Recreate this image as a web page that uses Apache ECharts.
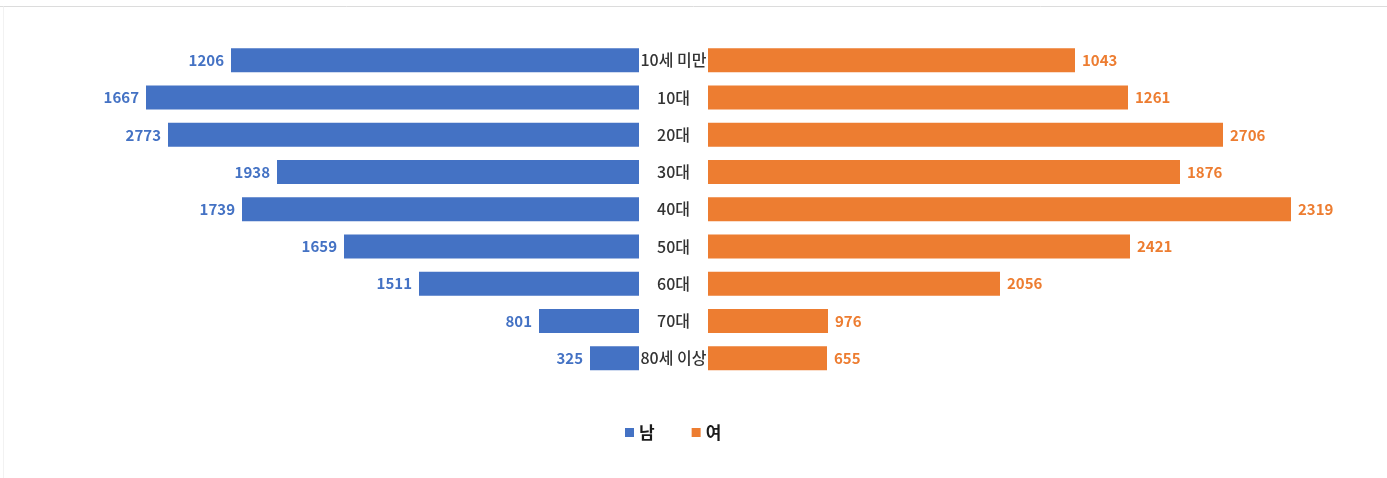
<!DOCTYPE html>
<html>
<head>
<meta charset="utf-8">
<script src="https://cdn.jsdelivr.net/npm/echarts@6/dist/echarts.min.js"></script>
<style>
html,body{margin:0;padding:0;background:#fff;}
#c{width:1387px;height:478px;}
</style>
</head>
<body>
<div id="c"></div>
<script>
// Data
const categories = ['10세 미만','10대','20대','30대','40대','50대','60대','70대','80세 이상'];
const seriesNames = ['남','여'];
// bar lengths (as drawn in the reference)
const maleBar = [408, 493, 471, 362, 397, 295, 220, 100, 49];
const femaleBar = [367, 420, 515, 472, 583, 422, 292, 120, 119];
// value labels shown next to the bars
const maleLabels = [1206, 1667, 2773, 1938, 1739, 1659, 1511, 801, 325];
const femaleLabels = [1043, 1261, 2706, 1876, 2319, 2421, 2056, 976, 655];

const BLUE = '#4472C4', ORANGE = '#ED7D31';
const FONT = '"Noto Sans CJK KR", "Noto Sans", sans-serif';

const chart = echarts.init(document.getElementById('c'), null, {renderer:'canvas'});
chart.setOption({
  animation: false,
  backgroundColor: '#fff',
  textStyle: {fontFamily: FONT},
  graphic: [
    {type:'line', shape:{x1:0,y1:6.5,x2:1387,y2:6.5}, style:{stroke:'#dcdcdc', lineWidth:1}},
    {type:'line', shape:{x1:3.5,y1:6.5,x2:3.5,y2:478}, style:{stroke:'#f2f2f2', lineWidth:1}}
  ],
  legend: {
    data: seriesNames,
    left: 620, top: 419,
    itemWidth: 9, itemHeight: 9, itemGap: 37,
    icon: 'rect',
    textStyle: {fontSize: 17, fontWeight: 'bold', color: '#1a1a1a', fontFamily: FONT}
  },
  grid: [
    {left: 39, width: 600, top: 41.7, bottom: 101.1, containLabel: false},
    {left: 708, width: 600, top: 41.7, bottom: 101.1, containLabel: false}
  ],
  xAxis: [
    {gridIndex:0, type:'value', min:0, max:600, inverse:true, show:false},
    {gridIndex:1, type:'value', min:0, max:600, show:false}
  ],
  yAxis: [
    {gridIndex:0, type:'category', data:categories, inverse:true, position:'right',
     axisLine:{show:false}, axisTick:{show:false}, splitLine:{show:false},
     axisLabel:{margin:34.5, align:'center', fontSize:16, fontWeight:500, color:'#333333', fontFamily:FONT}},
    {gridIndex:1, type:'category', data:categories, inverse:true,
     axisLine:{show:false}, axisTick:{show:false}, splitLine:{show:false},
     axisLabel:{show:false}}
  ],
  series: [
    {name:'남', type:'bar', xAxisIndex:0, yAxisIndex:0, data:maleBar, barWidth:24,
     itemStyle:{color:BLUE},
     label:{show:true, position:'left', distance:7, fontSize:15, fontWeight:'bold', color:BLUE, fontFamily:FONT,
       formatter:p=>maleLabels[p.dataIndex]}},
    {name:'여', type:'bar', xAxisIndex:1, yAxisIndex:1, data:femaleBar, barWidth:24,
     itemStyle:{color:ORANGE},
     label:{show:true, position:'right', distance:7, fontSize:15, fontWeight:'bold', color:ORANGE, fontFamily:FONT,
       formatter:p=>femaleLabels[p.dataIndex]}}
  ]
});
</script>
</body>
</html>
